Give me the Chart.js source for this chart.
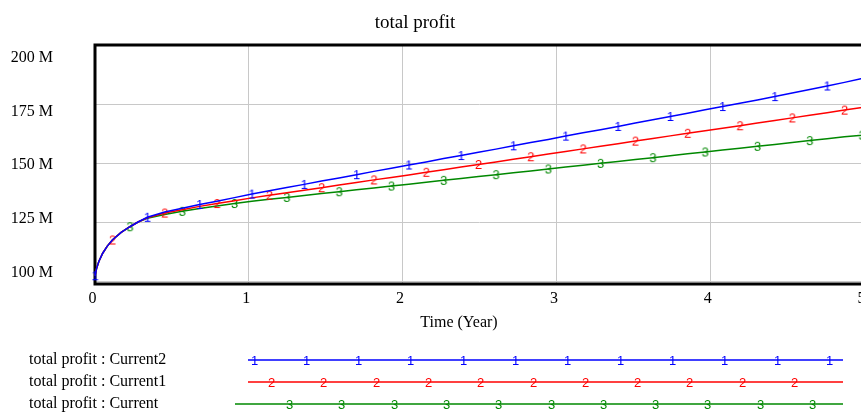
<!DOCTYPE html>
<html>
<head>
<meta charset="utf-8">
<script src="https://cdn.jsdelivr.net/npm/chart.js@4/dist/chart.umd.min.js"></script>
<style>
  html, body { margin: 0; padding: 0; background: #fff; overflow: hidden; }
  #wrap { width: 870px; height: 414px; }
</style>
</head>
<body>
<div id="wrap"><canvas id="c" width="870" height="414"></canvas></div>
<script>
// ---- data ----
const chartTitle = 'total profit';
const xTitle = 'Time (Year)';
const xTicks = [0, 1, 2, 3, 4, 5];
const yTicks = [100, 125, 150, 175, 200];
const times = [0, 0.01, 0.025, 0.05, 0.08, 0.113, 0.17, 0.227, 0.28,
  0.34, 0.453, 0.567, 0.68, 0.793, 0.907,
  1.02, 1.133, 1.247, 1.36, 1.473, 1.587, 1.7, 1.813, 1.927,
  2.04, 2.153, 2.267, 2.38, 2.493, 2.607, 2.72, 2.833, 2.947,
  3.06, 3.173, 3.287, 3.4, 3.513, 3.627, 3.74, 3.853, 3.967,
  4.08, 4.193, 4.307, 4.42, 4.533, 4.647, 4.76, 4.873, 4.987, 5];
const current2 = [102.5,105.5,108.5,112,115,117.6,120.8,123.2,125.2,
  127.2,129.4,131.0,132.6,134.0,135.5,
  137.0,138.4,139.8,141.1,142.5,143.8,145.2,146.6,147.9,
  149.3,150.6,152.0,153.3,154.7,156.0,157.4,158.8,160.1,
  161.5,162.9,164.2,165.6,167.0,168.4,169.8,171.2,172.6,
  174.0,175.4,176.8,178.2,179.7,181.2,182.7,184.2,185.8,186.0];
const current1 = [102.5,105.5,108.5,112,115,117.6,120.8,123.2,125.2,
  127.0,129.0,130.4,131.8,133.0,134.2,
  135.4,136.5,137.6,138.6,139.7,140.8,141.9,143.0,144.0,
  145.1,146.2,147.3,148.4,149.5,150.6,151.7,152.8,153.9,
  155.0,156.1,157.2,158.3,159.4,160.5,161.6,162.7,163.8,
  164.8,165.9,167.0,168.1,169.2,170.3,171.4,172.5,173.6,173.7];
const current = [102.5,105.5,108.5,112,115,117.6,120.8,123.2,125.2,
  126.8,128.4,129.7,130.9,132.0,133.0,
  134.0,134.8,135.6,136.4,137.2,138.0,138.8,139.6,140.4,
  141.2,142.0,142.8,143.6,144.4,145.2,146.0,146.8,147.6,
  148.4,149.2,150.0,150.8,151.6,152.4,153.2,154.0,154.8,
  155.6,156.4,157.2,158.0,158.8,159.6,160.4,161.2,161.9,162.0];
const seriesNames = ['total profit : Current2', 'total profit : Current1', 'total profit : Current'];
const seriesDigits = ['1', '2', '3'];
const seriesColors = ['#0000ff', '#ff0000', '#008800'];
const markerStep = 0.34;
const markerOffsets = [0, 0.1133, 0.2267];

// ---- helpers ----
const SERIF = "'Liberation Serif', 'Times New Roman', serif";
function digitImage(d, color) {
  const cv = document.createElement('canvas');
  cv.width = 9; cv.height = 13;
  const g = cv.getContext('2d');
  g.fillStyle = color;
  g.font = "13px 'Liberation Sans', Arial, sans-serif";
  g.textAlign = 'center';
  g.textBaseline = 'middle';
  g.fillText(d, 4.5, 7);
  return cv;
}
const digitImgs = seriesDigits.map((d, i) => digitImage(d, seriesColors[i]));
function isMarker(t, off) {
  const r = (t - off) / markerStep;
  return r > -0.01 && Math.abs(r - Math.round(r)) < 0.02;
}
function makeDataset(i, vals) {
  return {
    label: seriesNames[i],
    data: times.map((t, k) => ({ x: t, y: vals[k] })),
    borderColor: seriesColors[i],
    backgroundColor: seriesColors[i],
    borderWidth: 1.5,
    tension: 0,
    fill: false,
    pointStyle: digitImgs[i],
    pointRadius: ctx => isMarker(times[ctx.dataIndex], markerOffsets[i]) ? 4 : 0,
    pointHoverRadius: 0,
    clip: false
  };
}

const framePlugin = {
  id: 'frame',
  beforeDatasetsDraw(chart) {
    const { ctx, chartArea: a } = chart;
    ctx.save();
    ctx.strokeStyle = '#000';
    ctx.lineWidth = 3;
    ctx.beginPath();
    ctx.moveTo(a.right + 10, a.top);
    ctx.lineTo(a.left, a.top);
    ctx.lineTo(a.left, a.bottom);
    ctx.lineTo(a.right + 10, a.bottom);
    ctx.stroke();
    ctx.restore();
  },
  afterDraw(chart) {
    const { ctx } = chart;
    ctx.save();
    ctx.fillStyle = '#000';
    ctx.textBaseline = 'alphabetic';
    ctx.textAlign = 'center';
    ctx.font = '19px ' + SERIF;
    ctx.fillText(chartTitle, 415, 28);
    ctx.font = '16px ' + SERIF;
    ctx.fillText(xTitle, 459, 327);
    // legend
    const rows = [360, 382, 404];
    const starts = [248, 248, 235];
    const firstMark = [254, 271.5, 289.5];
    const counts = [12, 11, 11];
    for (let i = 0; i < 3; i++) {
      ctx.textAlign = 'left';
      ctx.textBaseline = 'middle';
      ctx.fillStyle = '#000';
      ctx.font = '16px ' + SERIF;
      ctx.fillText(seriesNames[i], 29, rows[i]);
      ctx.strokeStyle = seriesColors[i];
      ctx.lineWidth = 1.5;
      ctx.beginPath();
      ctx.moveTo(starts[i], rows[i]);
      ctx.lineTo(843, rows[i]);
      ctx.stroke();
      const img = digitImgs[i];
      for (let k = 0; k < counts[i]; k++) {
        const x = firstMark[i] + k * 52.3;
        ctx.drawImage(img, Math.round(x - img.width / 2), Math.round(rows[i] - img.height / 2));
      }
    }
    ctx.restore();
  }
};

new Chart(document.getElementById('c'), {
  type: 'line',
  data: {
    datasets: [makeDataset(0, current2), makeDataset(1, current1), makeDataset(2, current)]
  },
  options: {
    responsive: false,
    animation: false,
    events: [],
    layout: { padding: { left: 0, right: 6, top: 45, bottom: 0 } },
    plugins: { legend: { display: false }, title: { display: false }, tooltip: { enabled: false } },
    scales: {
      x: {
        type: 'linear',
        min: 0, max: 5,
        afterBuildTicks: s => { s.ticks = xTicks.map(v => ({ value: v })); },
        ticks: { color: '#000', font: { family: SERIF, size: 16 }, padding: 5, maxRotation: 0, autoSkip: false, labelOffset: -2.5 },
        grid: { color: '#c8c8c8', lineWidth: 1, drawTicks: false },
        border: { display: false },
        afterFit: s => { s.height = 130; s.paddingLeft = 0; s.paddingRight = 0; }
      },
      y: {
        type: 'linear',
        position: 'left',
        min: 99, max: 200,
        afterBuildTicks: s => { s.ticks = yTicks.map(v => ({ value: v })); },
        ticks: { display: false },
        grid: { color: '#c8c8c8', lineWidth: 1, drawTicks: false },
        border: { display: false },
        afterFit: s => { s.width = 0; s.paddingTop = 0; s.paddingBottom = 0; }
      },
      yl: {
        type: 'linear',
        position: 'left',
        min: 94.9, max: 205.8,
        afterBuildTicks: s => { s.ticks = yTicks.map(v => ({ value: v })); },
        ticks: { color: '#000', font: { family: SERIF, size: 16 }, padding: 42, callback: v => v + ' M' },
        grid: { display: false, drawTicks: false },
        border: { display: false },
        afterFit: s => { s.width = 95; s.paddingTop = 0; s.paddingBottom = 0; }
      }
    }
  },
  plugins: [framePlugin]
});
</script>
</body>
</html>
